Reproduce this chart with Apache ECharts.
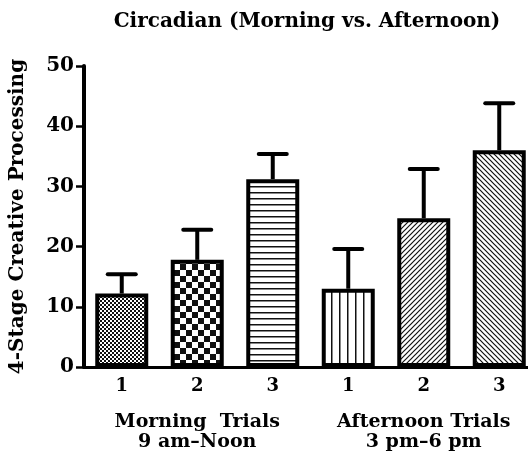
<!DOCTYPE html>
<html>
<head>
<meta charset="utf-8">
<script src="https://cdn.jsdelivr.net/npm/echarts@6/dist/echarts.min.js"></script>
<style>
  html, body { margin: 0; padding: 0; background: #fff; overflow: hidden; }
  /* wider than the window: the original figure is cropped on the right */
  #chart { width: 540px; height: 457px; }
</style>
</head>
<body>
<div id="chart"></div>
<script>
// bar data
let trial_labels = ["1", "2", "3", "1", "2", "3"];
let group_labels = ["Morning  Trials\n9 am\u2013Noon", "Afternoon Trials\n3 pm\u20136 pm"];
let means = [12.2, 17.8, 31.2, 13.0, 24.7, 36.0];
let errors = [3.2, 5.0, 4.2, 6.6, 8.2, 7.8];
let patterns = ["fineCheck", "coarseCheck", "hLines", "vLines", "diagUp", "diagDown"];

let FONT = "DejaVu Serif";

// Build a small tile for the bar fill
// (size the canvas first: changing width resets the context)
function make_pattern(kind) {
    let c = document.createElement("canvas");
    let sizes = { fineCheck: [4, 4], coarseCheck: [12, 12], hLines: [6, 6], vLines: [8, 8], diagUp: [5, 5], diagDown: [5, 5] };
    c.width = sizes[kind][0];
    c.height = sizes[kind][1];
    let ctx = c.getContext("2d");
    ctx.fillStyle = "#fff";
    ctx.fillRect(0, 0, c.width, c.height);
    ctx.fillStyle = "#111";
    if (kind === "fineCheck") {
        ctx.fillRect(0, 0, 2, 2);
        ctx.fillRect(2, 2, 2, 2);
    } else if (kind === "coarseCheck") {
        ctx.fillRect(0, 0, 6, 6);
        ctx.fillRect(6, 6, 6, 6);
    } else if (kind === "hLines") {
        ctx.fillRect(0, 0, 6, 1.5);
    } else if (kind === "vLines") {
        ctx.fillRect(3, 0, 1.5, 8);
    } else {
        // diagonal hatching
        ctx.strokeStyle = "#111";
        ctx.lineWidth = 1.2;
        ctx.beginPath();
        if (kind === "diagUp") {
            ctx.moveTo(-1, 6); ctx.lineTo(6, -1);
            ctx.moveTo(-1, 1); ctx.lineTo(1, -1);
            ctx.moveTo(4, 6); ctx.lineTo(6, 4);
        } else {
            ctx.moveTo(-1, -1); ctx.lineTo(6, 6);
            ctx.moveTo(4, -1); ctx.lineTo(6, 1);
            ctx.moveTo(-1, 4); ctx.lineTo(1, 6);
        }
        ctx.stroke();
    }
    return c;
}

let bar_data = means.map(function (v, i) {
    return {
        value: v,
        itemStyle: {
            color: { image: make_pattern(patterns[i]), repeat: "repeat" }
        }
    };
});

let err_data = means.map(function (v, i) {
    return [i, v, v + errors[i]];
});

let chart = echarts.init(document.getElementById("chart"), null, { renderer: "canvas" });

let option = {
    animation: false,
    title: {
        text: "Circadian (Morning vs. Afternoon)",
        left: 302,
        textAlign: "center",
        top: 7,
        textStyle: { fontFamily: FONT, fontWeight: "bold", fontSize: 20, color: "#000" }
    },
    grid: { left: 84, right: 3, top: 66, bottom: 90 },
    xAxis: [
        {
            type: "category",
            data: trial_labels,
            axisLine: { lineStyle: { color: "#000", width: 3 } },
            axisTick: { alignWithLabel: true, length: 8, lineStyle: { color: "#000", width: 2.5 } },
            axisLabel: { fontFamily: FONT, fontWeight: "bold", fontSize: 18, color: "#000", margin: 10 }
        },
        {
            type: "category",
            data: group_labels,
            position: "bottom",
            offset: 36,
            axisLine: { show: false },
            axisTick: { show: false },
            axisLabel: { interval: 0, fontFamily: FONT, fontWeight: "bold", fontSize: 19, color: "#000", lineHeight: 20, margin: 9 }
        }
    ],
    yAxis: {
        type: "value",
        min: 0,
        max: 50,
        interval: 10,
        name: "4-Stage Creative Processing",
        nameLocation: "middle",
        nameGap: 56,
        nameTextStyle: { fontFamily: FONT, fontWeight: "bold", fontSize: 20, color: "#000" },
        splitLine: { show: false },
        axisLine: { show: true, lineStyle: { color: "#000", width: 4 } },
        axisTick: { show: true, length: 8, lineStyle: { color: "#000", width: 2.5 } },
        axisLabel: { fontFamily: FONT, fontWeight: "bold", fontSize: 20, color: "#000", margin: 10 }
    },
    series: [
        {
            type: "bar",
            data: bar_data,
            barWidth: 53,
            itemStyle: { borderColor: "#000", borderWidth: 4 }
        },
        {
            type: "custom",
            data: err_data,
            z: 1,
            renderItem: function (params, api) {
                let x = api.value(0);
                let base = api.coord([x, api.value(1)]);
                let top = api.coord([x, api.value(2)]);
                let capHalf = 14;
                return {
                    type: "group",
                    children: [
                        {
                            type: "line",
                            shape: { x1: base[0], y1: base[1], x2: top[0], y2: top[1] },
                            style: { stroke: "#000", lineWidth: 4 }
                        },
                        {
                            type: "line",
                            shape: { x1: top[0] - capHalf, y1: top[1], x2: top[0] + capHalf, y2: top[1] },
                            style: { stroke: "#000", lineWidth: 4, lineCap: "round" }
                        }
                    ]
                };
            }
        }
    ]
};

chart.setOption(option);
</script>
</body>
</html>
